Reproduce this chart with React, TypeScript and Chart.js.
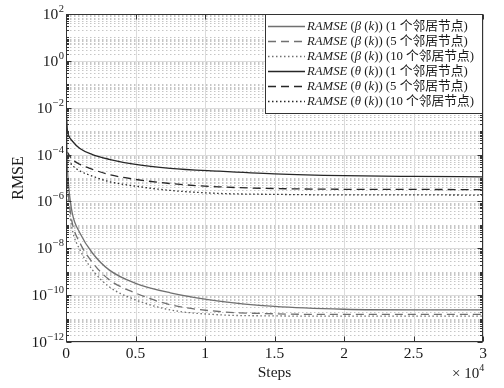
import { useEffect, useRef } from "react";
import { Chart, registerables } from "chart.js";

Chart.register(...registerables);

// ---------------- data ----------------
const steps = [0, 100, 200, 450, 1000, 1900, 3100, 5000, 7500, 11000, 15000, 20000, 25000, 30000];

const betaOne = [1e-2, 3.2e-5, 4e-6, 3.2e-7, 4.5e-8, 6.3e-9, 1.2e-9, 3.2e-10, 1.26e-10, 5.6e-11, 3.3e-11, 2.5e-11, 2.35e-11, 2.35e-11];
const betaFive = [1e-4, 6.3e-6, 1.26e-6, 1.2e-7, 1.7e-8, 2.5e-9, 4.6e-10, 1.23e-10, 3.9e-11, 2e-11, 1.6e-11, 1.5e-11, 1.5e-11, 1.5e-11];
const betaTen = [6.3e-5, 3.2e-6, 6.3e-7, 6.3e-8, 8.7e-9, 1.2e-9, 2.3e-10, 6.3e-11, 2.35e-11, 1.45e-11, 1.3e-11, 1.26e-11, 1.26e-11, 1.26e-11];

const thetaOne = [1.2e-2, 1.1e-3, 6.3e-4, 3.8e-4, 1.8e-4, 1e-4, 6.3e-5, 3.8e-5, 2.6e-5, 1.95e-5, 1.5e-5, 1.26e-5, 1.17e-5, 1.12e-5];
const thetaFive = [1.1e-4, 1.25e-4, 1e-4, 6.3e-5, 3.8e-5, 2.35e-5, 1.4e-5, 8.7e-6, 5.8e-6, 4.2e-6, 3.55e-6, 3.3e-6, 3.25e-6, 3.2e-6];
const thetaTen = [8e-5, 7e-5, 5.6e-5, 3.5e-5, 2e-5, 1.2e-5, 7e-6, 4.5e-6, 2.95e-6, 2.2e-6, 2e-6, 1.9e-6, 1.9e-6, 1.86e-6];

const neighbourLabels = ["(1 个邻居节点)", "(5 个邻居节点)", "(10 个邻居节点)"];
const symbolNames = ["β", "θ"];

const xTickValues = [0, 5000, 10000, 15000, 20000, 25000, 30000];
const xTickLabels = ["0", "0.5", "1", "1.5", "2", "2.5", "3"];
const yTickExponents = [2, 0, -2, -4, -6, -8, -10, -12];
const yTickLabels = ["2", "0", "−2", "−4", "−6", "−8", "−10", "−12"];

const xTitle = "Steps";
const yTitle = "RMSE";

// ---------------- styles ----------------
const SERIF = "'Liberation Serif', 'Times New Roman', 'Noto Sans CJK SC', serif";
const BETA_COLOR = "#707070";
const THETA_COLOR = "#262626";
const DASH = [8, 5];
const DOT = [1.5, 2.5];

const seriesDefs = [
  { values: betaOne, color: BETA_COLOR, dash: [] as number[], sym: 0, nb: 0 },
  { values: betaFive, color: BETA_COLOR, dash: DASH, sym: 0, nb: 1 },
  { values: betaTen, color: BETA_COLOR, dash: DOT, sym: 0, nb: 2 },
  { values: thetaOne, color: THETA_COLOR, dash: [] as number[], sym: 1, nb: 0 },
  { values: thetaFive, color: THETA_COLOR, dash: DASH, sym: 1, nb: 1 },
  { values: thetaTen, color: THETA_COLOR, dash: DOT, sym: 1, nb: 2 },
];

function hline(ctx: CanvasRenderingContext2D, x1: number, x2: number, y: number) {
  ctx.beginPath();
  ctx.moveTo(x1, y);
  ctx.lineTo(x2, y);
  ctx.stroke();
}
function vline(ctx: CanvasRenderingContext2D, x: number, y1: number, y2: number) {
  ctx.beginPath();
  ctx.moveTo(x, y1);
  ctx.lineTo(x, y2);
  ctx.stroke();
}

const matlabPlugin = {
  id: "matlabLook",
  beforeDatasetsDraw(chart: any) {
    const { ctx, chartArea: a, scales } = chart;
    const xs = scales.x;
    const ys = scales.y;
    ctx.save();
    ctx.lineWidth = 1;
    // minor horizontal grid (dotted)
    ctx.strokeStyle = "#c6c6c6";
    ctx.setLineDash([1.5, 2.5]);
    for (let e = -12; e < 2; e++) {
      for (let m = 1; m <= 9; m++) {
        if (m === 1 && e % 2 === 0) continue;
        const py = Math.round(ys.getPixelForValue(m * Math.pow(10, e))) + 0.5;
        hline(ctx, a.left, a.right, py);
      }
    }
    // major grid (solid light)
    ctx.setLineDash([]);
    ctx.strokeStyle = "#dcdcdc";
    yTickExponents.forEach((e) => {
      const py = Math.round(ys.getPixelForValue(Math.pow(10, e))) + 0.5;
      hline(ctx, a.left, a.right, py);
    });
    xTickValues.forEach((v) => {
      const px = Math.round(xs.getPixelForValue(v)) + 0.5;
      vline(ctx, px, a.top, a.bottom);
    });
    ctx.restore();
  },
  afterDatasetsDraw(chart: any) {
    const { ctx, chartArea: a, scales } = chart;
    const xs = scales.x;
    const ys = scales.y;
    ctx.save();
    ctx.setLineDash([]);
    ctx.strokeStyle = "#333";
    ctx.lineWidth = 1;
    const L = Math.round(a.left) + 0.5;
    const R = Math.round(a.right) - 0.5;
    const T = Math.round(a.top) + 0.5;
    const B = Math.round(a.bottom) - 0.5;
    ctx.strokeRect(L, T, R - L, B - T);

    // x ticks (inward, bottom and top)
    xTickValues.forEach((v) => {
      const px = Math.round(xs.getPixelForValue(v)) + 0.5;
      vline(ctx, px, B, B - 5);
      vline(ctx, px, T, T + 5);
    });
    // y ticks (inward, left and right)
    for (let e = -12; e <= 2; e++) {
      for (let m = 1; m <= 9; m++) {
        if (e === 2 && m > 1) continue;
        const py = Math.round(ys.getPixelForValue(m * Math.pow(10, e))) + 0.5;
        const len = m === 1 && e % 2 === 0 ? 5 : 2.5;
        hline(ctx, L, L + len, py);
        hline(ctx, R, R - len, py);
      }
    }

    ctx.fillStyle = "#1a1a1a";
    // y tick labels
    ctx.textBaseline = "alphabetic";
    ctx.textAlign = "left";
    yTickExponents.forEach((e, i) => {
      const py = ys.getPixelForValue(Math.pow(10, e));
      const exp = yTickLabels[i];
      ctx.font = `10.5px ${SERIF}`;
      const ew = ctx.measureText(exp).width;
      ctx.font = `15.5px ${SERIF}`;
      const bw = ctx.measureText("10").width;
      const right = 64;
      ctx.fillText("10", right - ew - bw - 0.5, py + 5);
      ctx.font = `10.5px ${SERIF}`;
      ctx.fillText(exp, right - ew, py - 2);
    });
    // x tick labels
    ctx.font = `15.5px ${SERIF}`;
    ctx.textAlign = "center";
    ctx.textBaseline = "middle";
    xTickValues.forEach((v, i) => {
      ctx.fillText(xTickLabels[i], xs.getPixelForValue(v), a.bottom + 12);
    });
    // x title
    ctx.fillText(xTitle, (a.left + a.right) / 2, 373);
    // exponent multiplier
    ctx.textAlign = "left";
    ctx.textBaseline = "alphabetic";
    ctx.font = `15px ${SERIF}`;
    ctx.fillText("× 10", 452, 378);
    const w10 = ctx.measureText("× 10").width;
    ctx.font = `10px ${SERIF}`;
    ctx.fillText("4", 452 + w10, 371);
    // y title
    ctx.save();
    ctx.translate(19, (a.top + a.bottom) / 2);
    ctx.rotate(-Math.PI / 2);
    ctx.font = `16px ${SERIF}`;
    ctx.textAlign = "center";
    ctx.textBaseline = "middle";
    ctx.fillText(yTitle, 0, 0);
    ctx.restore();

    // legend
    const bx = 265.5;
    const by = Math.round(a.top) + 0.5;
    const bw2 = R - bx;
    const bh = 99;
    ctx.fillStyle = "#fff";
    ctx.fillRect(bx, by, bw2, bh);
    ctx.strokeStyle = "#333";
    ctx.lineWidth = 1;
    ctx.setLineDash([]);
    ctx.strokeRect(bx, by, bw2, bh);
    chart.data.datasets.forEach((ds: any, i: number) => {
      const def = seriesDefs[i];
      const ry = by + 11.5 + i * 15;
      ctx.strokeStyle = def.color;
      ctx.lineWidth = 1.3;
      ctx.setLineDash(def.dash);
      hline(ctx, 268, 305, Math.round(ry) + 0.5);
      ctx.setLineDash([]);
      const parts: [string, boolean][] = [
        ["RAMSE", true],
        [" (", false],
        [symbolNames[def.sym], true],
        [" (", false],
        ["k", true],
        ["))", false],
        [" " + neighbourLabels[def.nb], false],
      ];
      let tx = 307;
      ctx.fillStyle = "#1a1a1a";
      ctx.textBaseline = "middle";
      ctx.textAlign = "left";
      parts.forEach(([t, it]) => {
        ctx.font = `${it ? "italic " : ""}12.75px ${SERIF}`;
        ctx.fillText(t, tx, ry + 1);
        tx += ctx.measureText(t).width;
      });
    });
    ctx.restore();
  },
};

export default function App() {
  const canvasRef = useRef<HTMLCanvasElement | null>(null);

  useEffect(() => {
    if (!canvasRef.current) return;
    const datasets = seriesDefs.map((d, i) => ({
      label: `series${i}`,
      data: steps.map((s, j) => ({ x: s, y: d.values[j] })),
      borderColor: d.color,
      borderWidth: 1.3,
      borderDash: d.dash,
      pointRadius: 0,
      fill: false,
      cubicInterpolationMode: "monotone" as const,
    }));
    const chart = new Chart(canvasRef.current, {
      type: "line",
      data: { datasets },
      options: {
        animation: false,
        responsive: true,
        maintainAspectRatio: false,
        layout: { padding: { left: 66, top: 14, right: 21, bottom: 46 } },
        plugins: { legend: { display: false }, tooltip: { enabled: false } },
        scales: {
          x: { type: "linear", min: 0, max: 30000, display: false },
          y: { type: "logarithmic", min: 1e-12, max: 1e2, display: false },
        },
      },
      plugins: [matlabPlugin],
    });
    return () => chart.destroy();
  }, []);

  return (
    <div style={{ position: "fixed", left: 0, top: 0, width: 504, height: 388, background: "#fff" }}>
      <canvas ref={canvasRef} />
    </div>
  );
}
